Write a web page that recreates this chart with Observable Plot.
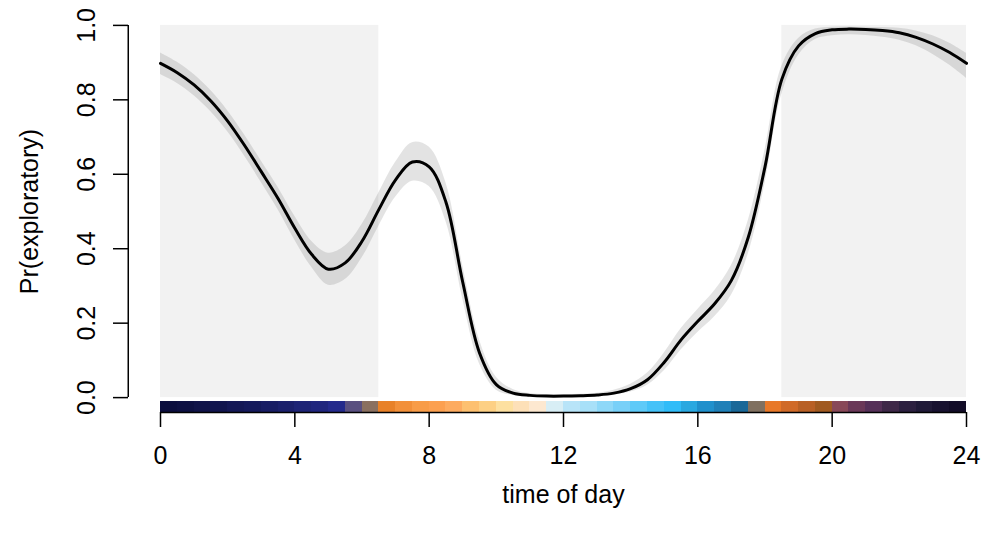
<!DOCTYPE html>
<html>
<head>
<meta charset="utf-8">
<script src="https://cdn.jsdelivr.net/npm/d3@7"></script>
<script src="https://cdn.jsdelivr.net/npm/@observablehq/plot@0.6"></script>
<style>
  html, body { margin: 0; padding: 0; background: #fff; }
</style>
</head>
<body>
<div id="chart"></div>
<script>
// ---- data ----
const hours = [0,0.5,1,1.5,2,2.5,3,3.5,4,4.5,5,5.5,6,6.5,7,7.5,8,8.5,9,9.5,10,10.5,11,11.5,12,12.5,13,13.5,14,14.5,15,15.5,16,16.5,17,17.5,18,18.5,19,19.5,20,20.5,21,21.5,22,22.5,23,23.5,24];
const fit   = [0.898,0.873,0.84,0.797,0.743,0.678,0.607,0.535,0.455,0.385,0.345,0.362,0.42,0.505,0.585,0.633,0.62,0.525,0.31,0.12,0.035,0.012,0.006,0.004,0.004,0.005,0.007,0.012,0.024,0.048,0.095,0.155,0.205,0.252,0.315,0.43,0.62,0.855,0.945,0.978,0.988,0.99,0.989,0.986,0.98,0.968,0.95,0.927,0.898];
const lower = [0.868,0.844,0.811,0.768,0.714,0.649,0.578,0.505,0.423,0.35,0.302,0.317,0.375,0.46,0.538,0.581,0.567,0.473,0.265,0.09,0.02,0.006,0.003,0.002,0.002,0.002,0.004,0.007,0.015,0.033,0.072,0.128,0.175,0.217,0.275,0.385,0.575,0.815,0.92,0.962,0.972,0.975,0.973,0.968,0.96,0.945,0.922,0.893,0.858];
const upper = [0.926,0.901,0.868,0.825,0.771,0.706,0.636,0.565,0.487,0.42,0.388,0.407,0.465,0.55,0.632,0.685,0.673,0.577,0.355,0.155,0.055,0.022,0.011,0.008,0.008,0.009,0.012,0.02,0.036,0.066,0.12,0.185,0.237,0.287,0.355,0.475,0.665,0.89,0.965,0.99,0.995,0.996,0.995,0.994,0.992,0.985,0.972,0.952,0.925];

const nightStart = [0, 18.5];
const nightEnd   = [6.5, 24];

const barColors = [
  "#0b0e3e","#0d1042","#101348","#11154e","#141856","#151a5c","#181d64","#1b206c","#1e2476","#20267e","#242a8c",
  "#5a5080","#8a7060",
  "#e88128","#f2903a","#f89c48","#fca050","#fdab60","#fdc070","#fdd084","#fde0a0","#fde0b8","#fde8d0",
  "#d8eef5","#b8e4f8","#a8e0f8","#8ed8f8","#78d0f8","#5ecaf8","#45c2f8","#30bcf8","#2aa8e0",
  "#2090cc","#2080b8","#1a6898","#807060",
  "#e87828","#d06a28","#b86025","#a05a20","#884858","#6a3858","#553058","#3e2848","#2c2040","#201a38","#181230","#120c28"
];
const barStep = 0.5;
const barY = [-0.04, -0.01];

const xTicks = [0, 4, 8, 12, 16, 20, 24];
const yTicks = [0, 0.2, 0.4, 0.6, 0.8, 1.0];
const xLabel = "time of day";
const yLabel = "Pr(exploratory)";

const xDomain = [0, 24];
const yDomain = [0, 1];
// R-style 4% axis extension
const ext = 0.04;
const yUsr = [yDomain[0] - ext * (yDomain[1] - yDomain[0]), yDomain[1] + ext * (yDomain[1] - yDomain[0])];
const xUsrMin = xDomain[0] - ext * (xDomain[1] - xDomain[0]);

// ---- tables ----
const curve = hours.map((h, i) => ({h, fit: fit[i], lo: lower[i], hi: upper[i]}));
const nights = nightStart.map((s, i) => ({s, e: nightEnd[i]}));
const bar = barColors.map((c, i) => ({x1: i * barStep, x2: (i + 1) * barStep, c}));

const font = "'Liberation Sans', Arial, Helvetica, sans-serif";
const fs = 25;

const chart = Plot.plot({
  width: 982,
  height: 534,
  marginLeft: 128,
  marginRight: 16,
  marginTop: 10,
  marginBottom: 122,
  x: {domain: xDomain, range: [160, 966]},
  y: {domain: yUsr},
  style: {fontFamily: font, fontSize: fs + "px", color: "#000", background: "#fff"},
  marks: [
    Plot.rect(nights, {x1: "s", x2: "e", y1: yDomain[0], y2: yDomain[1], fill: "#f2f2f2"}),
    Plot.areaY(curve, {x: "h", y1: "lo", y2: "hi", fill: "#000", fillOpacity: 0.11, curve: "catmull-rom"}),
    Plot.line(curve, {x: "h", y: "fit", stroke: "#000", strokeWidth: 3, curve: "catmull-rom"}),
    Plot.rect(bar, {x1: "x1", x2: "x2", y1: barY[0], y2: barY[1], fill: "c", shapeRendering: "crispEdges"}),
    // axis lines (R style: span tick range)
    Plot.ruleX([xUsrMin], {y1: yDomain[0], y2: yDomain[1], stroke: "#000", strokeWidth: 1.5}),
    Plot.ruleY([yUsr[0]], {x1: xDomain[0], x2: xDomain[1], stroke: "#000", strokeWidth: 1.5}),
    Plot.axisX({ticks: xTicks, tickSize: 15, tickPadding: 19, tickFormat: d3.format("d"), fontSize: fs, strokeWidth: 1.5, label: null}),
    Plot.axisY({ticks: yTicks, tickSize: 15, tickPadding: 19, tickRotate: -90, tickFormat: d3.format(".1f"), fontSize: fs, strokeWidth: 1.5, label: null}),
    Plot.text([xLabel], {x: (xDomain[0] + xDomain[1]) / 2, frameAnchor: "bottom", lineAnchor: "bottom", dy: 90, fontSize: fs, fill: "#000"}),
    Plot.text([yLabel], {y: (yDomain[0] + yDomain[1]) / 2, frameAnchor: "left", rotate: -90, lineAnchor: "bottom", textAnchor: "middle", dx: -91, fontSize: fs, fill: "#000"})
  ]
});
document.getElementById("chart").appendChild(chart);
</script>
</body>
</html>
